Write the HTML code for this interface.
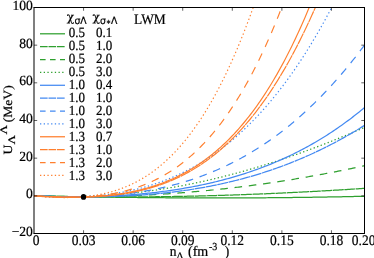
<!DOCTYPE html>
<html><head><meta charset="utf-8"><title>U Lambda</title>
<style>html,body{margin:0;padding:0;background:#fff}</style></head>
<body>
<svg width="374" height="258" viewBox="0 0 374 258" style="display:block">
<rect width="374" height="258" fill="#fff"/>
<g transform="scale(1,1.08)">
<g fill="none" stroke-width="1.15">
<path d="M34.00 181.32 L35.65 181.36 L37.30 181.39 L38.96 181.42 L40.61 181.45 L42.26 181.49 L43.91 181.52 L45.57 181.55 L47.22 181.58 L48.87 181.61 L50.52 181.64 L52.18 181.67 L53.83 181.70 L55.48 181.73 L57.14 181.76 L58.79 181.79 L60.44 181.82 L62.09 181.85 L63.75 181.88 L65.40 181.91 L67.05 181.94 L68.70 181.97 L70.35 181.99 L72.01 182.02 L73.66 182.05 L75.31 182.07 L76.97 182.10 L78.62 182.13 L80.27 182.15 L81.92 182.18 L83.57 182.21 L85.23 182.23 L86.88 182.26 L88.53 182.28 L90.19 182.30 L91.84 182.33 L93.49 182.35 L95.14 182.38 L96.80 182.40 L98.45 182.42 L100.10 182.44 L101.75 182.47 L103.41 182.49 L105.06 182.51 L106.71 182.53 L108.36 182.55 L110.02 182.58 L111.67 182.60 L113.32 182.62 L114.97 182.64 L116.62 182.66 L118.28 182.68 L119.93 182.69 L121.58 182.71 L123.23 182.73 L124.89 182.75 L126.54 182.77 L128.19 182.79 L129.84 182.80 L131.50 182.82 L133.15 182.84 L134.80 182.85 L136.45 182.87 L138.11 182.89 L139.76 182.90 L141.41 182.92 L143.06 182.93 L144.72 182.95 L146.37 182.96 L148.02 182.98 L149.68 182.99 L151.33 183.00 L152.98 183.02 L154.63 183.03 L156.28 183.04 L157.94 183.05 L159.59 183.06 L161.24 183.08 L162.90 183.09 L164.55 183.10 L166.20 183.11 L167.85 183.12 L169.50 183.13 L171.16 183.14 L172.81 183.15 L174.46 183.16 L176.12 183.16 L177.77 183.17 L179.42 183.18 L181.07 183.19 L182.72 183.20 L184.38 183.20 L186.03 183.21 L187.68 183.21 L189.34 183.22 L190.99 183.23 L192.64 183.23 L194.29 183.24 L195.94 183.24 L197.60 183.24 L199.25 183.25 L200.90 183.25 L202.56 183.26 L204.21 183.26 L205.86 183.26 L207.51 183.26 L209.16 183.26 L210.82 183.27 L212.47 183.27 L214.12 183.27 L215.78 183.27 L217.43 183.27 L219.08 183.27 L220.73 183.27 L222.39 183.27 L224.04 183.26 L225.69 183.26 L227.34 183.26 L229.00 183.26 L230.65 183.25 L232.30 183.25 L233.95 183.25 L235.60 183.24 L237.26 183.24 L238.91 183.23 L240.56 183.23 L242.22 183.22 L243.87 183.22 L245.52 183.21 L247.17 183.20 L248.83 183.20 L250.48 183.19 L252.13 183.18 L253.78 183.17 L255.44 183.17 L257.09 183.16 L258.74 183.15 L260.39 183.14 L262.05 183.13 L263.70 183.12 L265.35 183.11 L267.00 183.10 L268.66 183.08 L270.31 183.07 L271.96 183.06 L273.61 183.05 L275.26 183.03 L276.92 183.02 L278.57 183.01 L280.22 182.99 L281.88 182.98 L283.53 182.96 L285.18 182.95 L286.83 182.93 L288.49 182.92 L290.14 182.90 L291.79 182.88 L293.44 182.86 L295.10 182.85 L296.75 182.83 L298.40 182.81 L300.05 182.79 L301.70 182.77 L303.36 182.75 L305.01 182.73 L306.66 182.71 L308.31 182.69 L309.97 182.67 L311.62 182.65 L313.27 182.62 L314.93 182.60 L316.58 182.58 L318.23 182.55 L319.88 182.53 L321.54 182.51 L323.19 182.48 L324.84 182.46 L326.49 182.43 L328.14 182.40 L329.80 182.38 L331.45 182.35 L333.10 182.32 L334.75 182.30 L336.41 182.27 L338.06 182.24 L339.71 182.21 L341.37 182.18 L343.02 182.15 L344.67 182.12 L346.32 182.09 L347.98 182.06 L349.63 182.03 L351.28 181.99 L352.93 181.96 L354.59 181.93 L356.24 181.89 L357.89 181.86 L359.54 181.83 L361.19 181.79 L362.85 181.76 L364.50 181.72" stroke="#2fa02f"/>
<path d="M34.00 181.32 L35.65 181.37 L37.30 181.41 L38.96 181.45 L40.61 181.49 L42.26 181.52 L43.91 181.56 L45.57 181.60 L47.22 181.63 L48.87 181.67 L50.52 181.70 L52.18 181.74 L53.83 181.77 L55.48 181.80 L57.14 181.83 L58.79 181.86 L60.44 181.89 L62.09 181.92 L63.75 181.94 L65.40 181.97 L67.05 182.00 L68.70 182.02 L70.35 182.04 L72.01 182.07 L73.66 182.09 L75.31 182.11 L76.97 182.13 L78.62 182.15 L80.27 182.17 L81.92 182.19 L83.57 182.20 L85.23 182.22 L86.88 182.24 L88.53 182.25 L90.19 182.26 L91.84 182.28 L93.49 182.29 L95.14 182.30 L96.80 182.31 L98.45 182.32 L100.10 182.33 L101.75 182.34 L103.41 182.35 L105.06 182.35 L106.71 182.36 L108.36 182.36 L110.02 182.37 L111.67 182.37 L113.32 182.37 L114.97 182.38 L116.62 182.38 L118.28 182.38 L119.93 182.38 L121.58 182.38 L123.23 182.37 L124.89 182.37 L126.54 182.37 L128.19 182.36 L129.84 182.36 L131.50 182.35 L133.15 182.34 L134.80 182.34 L136.45 182.33 L138.11 182.32 L139.76 182.31 L141.41 182.30 L143.06 182.29 L144.72 182.27 L146.37 182.26 L148.02 182.25 L149.68 182.23 L151.33 182.22 L152.98 182.20 L154.63 182.18 L156.28 182.17 L157.94 182.15 L159.59 182.13 L161.24 182.11 L162.90 182.09 L164.55 182.07 L166.20 182.05 L167.85 182.02 L169.50 182.00 L171.16 181.97 L172.81 181.95 L174.46 181.92 L176.12 181.90 L177.77 181.87 L179.42 181.84 L181.07 181.81 L182.72 181.78 L184.38 181.75 L186.03 181.72 L187.68 181.69 L189.34 181.66 L190.99 181.62 L192.64 181.59 L194.29 181.56 L195.94 181.52 L197.60 181.49 L199.25 181.45 L200.90 181.41 L202.56 181.37 L204.21 181.33 L205.86 181.29 L207.51 181.25 L209.16 181.21 L210.82 181.17 L212.47 181.13 L214.12 181.09 L215.78 181.04 L217.43 181.00 L219.08 180.95 L220.73 180.91 L222.39 180.86 L224.04 180.81 L225.69 180.76 L227.34 180.71 L229.00 180.67 L230.65 180.62 L232.30 180.56 L233.95 180.51 L235.60 180.46 L237.26 180.41 L238.91 180.35 L240.56 180.30 L242.22 180.25 L243.87 180.19 L245.52 180.13 L247.17 180.08 L248.83 180.02 L250.48 179.96 L252.13 179.90 L253.78 179.84 L255.44 179.78 L257.09 179.72 L258.74 179.66 L260.39 179.60 L262.05 179.53 L263.70 179.47 L265.35 179.41 L267.00 179.34 L268.66 179.28 L270.31 179.21 L271.96 179.14 L273.61 179.08 L275.26 179.01 L276.92 178.94 L278.57 178.87 L280.22 178.80 L281.88 178.73 L283.53 178.66 L285.18 178.59 L286.83 178.51 L288.49 178.44 L290.14 178.37 L291.79 178.29 L293.44 178.22 L295.10 178.14 L296.75 178.06 L298.40 177.99 L300.05 177.91 L301.70 177.83 L303.36 177.75 L305.01 177.67 L306.66 177.59 L308.31 177.51 L309.97 177.43 L311.62 177.35 L313.27 177.26 L314.93 177.18 L316.58 177.10 L318.23 177.01 L319.88 176.93 L321.54 176.84 L323.19 176.76 L324.84 176.67 L326.49 176.58 L328.14 176.49 L329.80 176.41 L331.45 176.32 L333.10 176.23 L334.75 176.14 L336.41 176.04 L338.06 175.95 L339.71 175.86 L341.37 175.77 L343.02 175.67 L344.67 175.58 L346.32 175.49 L347.98 175.39 L349.63 175.30 L351.28 175.20 L352.93 175.10 L354.59 175.00 L356.24 174.91 L357.89 174.81 L359.54 174.71 L361.19 174.61 L362.85 174.51 L364.50 174.41" stroke="#2fa02f" stroke-dasharray="10.9 0.6"/>
<path d="M34.00 181.32 L35.65 181.38 L37.30 181.43 L38.96 181.48 L40.61 181.53 L42.26 181.58 L43.91 181.62 L45.57 181.67 L47.22 181.71 L48.87 181.75 L50.52 181.78 L52.18 181.82 L53.83 181.85 L55.48 181.88 L57.14 181.91 L58.79 181.94 L60.44 181.97 L62.09 181.99 L63.75 182.01 L65.40 182.03 L67.05 182.05 L68.70 182.06 L70.35 182.08 L72.01 182.09 L73.66 182.10 L75.31 182.11 L76.97 182.11 L78.62 182.12 L80.27 182.12 L81.92 182.12 L83.57 182.12 L85.23 182.11 L86.88 182.11 L88.53 182.10 L90.19 182.09 L91.84 182.08 L93.49 182.06 L95.14 182.05 L96.80 182.03 L98.45 182.01 L100.10 181.99 L101.75 181.96 L103.41 181.94 L105.06 181.91 L106.71 181.88 L108.36 181.85 L110.02 181.82 L111.67 181.78 L113.32 181.74 L114.97 181.70 L116.62 181.66 L118.28 181.62 L119.93 181.57 L121.58 181.53 L123.23 181.48 L124.89 181.43 L126.54 181.37 L128.19 181.32 L129.84 181.26 L131.50 181.20 L133.15 181.14 L134.80 181.08 L136.45 181.02 L138.11 180.95 L139.76 180.88 L141.41 180.81 L143.06 180.74 L144.72 180.66 L146.37 180.59 L148.02 180.51 L149.68 180.43 L151.33 180.35 L152.98 180.26 L154.63 180.18 L156.28 180.09 L157.94 180.00 L159.59 179.91 L161.24 179.81 L162.90 179.72 L164.55 179.62 L166.20 179.52 L167.85 179.42 L169.50 179.31 L171.16 179.21 L172.81 179.10 L174.46 178.99 L176.12 178.88 L177.77 178.76 L179.42 178.65 L181.07 178.53 L182.72 178.41 L184.38 178.29 L186.03 178.17 L187.68 178.04 L189.34 177.92 L190.99 177.79 L192.64 177.66 L194.29 177.52 L195.94 177.39 L197.60 177.25 L199.25 177.11 L200.90 176.97 L202.56 176.83 L204.21 176.68 L205.86 176.54 L207.51 176.39 L209.16 176.24 L210.82 176.09 L212.47 175.93 L214.12 175.78 L215.78 175.62 L217.43 175.46 L219.08 175.30 L220.73 175.13 L222.39 174.97 L224.04 174.80 L225.69 174.63 L227.34 174.46 L229.00 174.28 L230.65 174.11 L232.30 173.93 L233.95 173.75 L235.60 173.57 L237.26 173.38 L238.91 173.20 L240.56 173.01 L242.22 172.82 L243.87 172.63 L245.52 172.44 L247.17 172.24 L248.83 172.05 L250.48 171.85 L252.13 171.65 L253.78 171.44 L255.44 171.24 L257.09 171.03 L258.74 170.82 L260.39 170.61 L262.05 170.40 L263.70 170.18 L265.35 169.97 L267.00 169.75 L268.66 169.53 L270.31 169.31 L271.96 169.08 L273.61 168.86 L275.26 168.63 L276.92 168.40 L278.57 168.17 L280.22 167.93 L281.88 167.70 L283.53 167.46 L285.18 167.22 L286.83 166.98 L288.49 166.73 L290.14 166.49 L291.79 166.24 L293.44 165.99 L295.10 165.74 L296.75 165.49 L298.40 165.23 L300.05 164.97 L301.70 164.72 L303.36 164.45 L305.01 164.19 L306.66 163.93 L308.31 163.66 L309.97 163.39 L311.62 163.12 L313.27 162.85 L314.93 162.57 L316.58 162.30 L318.23 162.02 L319.88 161.74 L321.54 161.46 L323.19 161.17 L324.84 160.89 L326.49 160.60 L328.14 160.31 L329.80 160.02 L331.45 159.72 L333.10 159.43 L334.75 159.13 L336.41 158.83 L338.06 158.53 L339.71 158.22 L341.37 157.92 L343.02 157.61 L344.67 157.30 L346.32 156.99 L347.98 156.68 L349.63 156.36 L351.28 156.05 L352.93 155.73 L354.59 155.41 L356.24 155.08 L357.89 154.76 L359.54 154.43 L361.19 154.10 L362.85 153.77 L364.50 153.44" stroke="#2fa02f" stroke-dasharray="7.6 6.75" stroke-dashoffset="0.05"/>
<path d="M34.00 181.32 L35.65 181.41 L37.30 181.49 L38.96 181.57 L40.61 181.64 L42.26 181.71 L43.91 181.78 L45.57 181.84 L47.22 181.89 L48.87 181.94 L50.52 181.99 L52.18 182.03 L53.83 182.07 L55.48 182.10 L57.14 182.13 L58.79 182.15 L60.44 182.17 L62.09 182.18 L63.75 182.20 L65.40 182.20 L67.05 182.20 L68.70 182.20 L70.35 182.19 L72.01 182.18 L73.66 182.16 L75.31 182.14 L76.97 182.12 L78.62 182.09 L80.27 182.06 L81.92 182.02 L83.57 181.98 L85.23 181.93 L86.88 181.88 L88.53 181.82 L90.19 181.76 L91.84 181.70 L93.49 181.63 L95.14 181.56 L96.80 181.48 L98.45 181.40 L100.10 181.32 L101.75 181.23 L103.41 181.13 L105.06 181.03 L106.71 180.93 L108.36 180.82 L110.02 180.71 L111.67 180.60 L113.32 180.48 L114.97 180.36 L116.62 180.23 L118.28 180.10 L119.93 179.96 L121.58 179.82 L123.23 179.68 L124.89 179.53 L126.54 179.38 L128.19 179.22 L129.84 179.06 L131.50 178.89 L133.15 178.72 L134.80 178.55 L136.45 178.37 L138.11 178.19 L139.76 178.01 L141.41 177.82 L143.06 177.62 L144.72 177.42 L146.37 177.22 L148.02 177.02 L149.68 176.81 L151.33 176.59 L152.98 176.38 L154.63 176.15 L156.28 175.93 L157.94 175.70 L159.59 175.46 L161.24 175.23 L162.90 174.98 L164.55 174.74 L166.20 174.49 L167.85 174.23 L169.50 173.98 L171.16 173.71 L172.81 173.45 L174.46 173.18 L176.12 172.91 L177.77 172.63 L179.42 172.35 L181.07 172.06 L182.72 171.77 L184.38 171.48 L186.03 171.18 L187.68 170.88 L189.34 170.58 L190.99 170.27 L192.64 169.96 L194.29 169.64 L195.94 169.32 L197.60 169.00 L199.25 168.67 L200.90 168.34 L202.56 168.00 L204.21 167.66 L205.86 167.32 L207.51 166.97 L209.16 166.62 L210.82 166.27 L212.47 165.91 L214.12 165.55 L215.78 165.18 L217.43 164.82 L219.08 164.44 L220.73 164.07 L222.39 163.69 L224.04 163.30 L225.69 162.91 L227.34 162.52 L229.00 162.13 L230.65 161.73 L232.30 161.33 L233.95 160.92 L235.60 160.51 L237.26 160.10 L238.91 159.68 L240.56 159.26 L242.22 158.84 L243.87 158.41 L245.52 157.98 L247.17 157.54 L248.83 157.10 L250.48 156.66 L252.13 156.22 L253.78 155.77 L255.44 155.32 L257.09 154.86 L258.74 154.40 L260.39 153.94 L262.05 153.47 L263.70 153.00 L265.35 152.52 L267.00 152.05 L268.66 151.57 L270.31 151.08 L271.96 150.59 L273.61 150.10 L275.26 149.61 L276.92 149.11 L278.57 148.61 L280.22 148.10 L281.88 147.59 L283.53 147.08 L285.18 146.57 L286.83 146.05 L288.49 145.53 L290.14 145.00 L291.79 144.47 L293.44 143.94 L295.10 143.40 L296.75 142.86 L298.40 142.32 L300.05 141.78 L301.70 141.23 L303.36 140.67 L305.01 140.12 L306.66 139.56 L308.31 139.00 L309.97 138.43 L311.62 137.86 L313.27 137.29 L314.93 136.71 L316.58 136.14 L318.23 135.55 L319.88 134.97 L321.54 134.38 L323.19 133.79 L324.84 133.19 L326.49 132.59 L328.14 131.99 L329.80 131.39 L331.45 130.78 L333.10 130.17 L334.75 129.55 L336.41 128.94 L338.06 128.31 L339.71 127.69 L341.37 127.06 L343.02 126.43 L344.67 125.80 L346.32 125.16 L347.98 124.52 L349.63 123.88 L351.28 123.24 L352.93 122.59 L354.59 121.93 L356.24 121.28 L357.89 120.62 L359.54 119.96 L361.19 119.30 L362.85 118.63 L364.50 117.96" stroke="#2fa02f" stroke-dasharray="1.3 2.4"/>
<path d="M34.00 181.32 L35.65 181.40 L37.30 181.47 L38.96 181.54 L40.61 181.61 L42.26 181.67 L43.91 181.73 L45.57 181.79 L47.22 181.84 L48.87 181.89 L50.52 181.94 L52.18 181.99 L53.83 182.03 L55.48 182.07 L57.14 182.10 L58.79 182.13 L60.44 182.16 L62.09 182.19 L63.75 182.21 L65.40 182.23 L67.05 182.25 L68.70 182.26 L70.35 182.27 L72.01 182.28 L73.66 182.28 L75.31 182.28 L76.97 182.28 L78.62 182.27 L80.27 182.26 L81.92 182.25 L83.57 182.24 L85.23 182.22 L86.88 182.20 L88.53 182.17 L90.19 182.14 L91.84 182.11 L93.49 182.08 L95.14 182.04 L96.80 182.00 L98.45 181.95 L100.10 181.90 L101.75 181.85 L103.41 181.79 L105.06 181.74 L106.71 181.67 L108.36 181.61 L110.02 181.54 L111.67 181.46 L113.32 181.39 L114.97 181.31 L116.62 181.22 L118.28 181.14 L119.93 181.05 L121.58 180.95 L123.23 180.85 L124.89 180.75 L126.54 180.64 L128.19 180.53 L129.84 180.42 L131.50 180.30 L133.15 180.18 L134.80 180.06 L136.45 179.93 L138.11 179.80 L139.76 179.66 L141.41 179.52 L143.06 179.37 L144.72 179.22 L146.37 179.07 L148.02 178.91 L149.68 178.75 L151.33 178.58 L152.98 178.41 L154.63 178.24 L156.28 178.06 L157.94 177.87 L159.59 177.68 L161.24 177.49 L162.90 177.29 L164.55 177.09 L166.20 176.89 L167.85 176.67 L169.50 176.46 L171.16 176.24 L172.81 176.01 L174.46 175.78 L176.12 175.55 L177.77 175.31 L179.42 175.06 L181.07 174.81 L182.72 174.55 L184.38 174.29 L186.03 174.03 L187.68 173.76 L189.34 173.48 L190.99 173.20 L192.64 172.91 L194.29 172.62 L195.94 172.32 L197.60 172.01 L199.25 171.70 L200.90 171.39 L202.56 171.07 L204.21 170.74 L205.86 170.41 L207.51 170.07 L209.16 169.72 L210.82 169.37 L212.47 169.01 L214.12 168.65 L215.78 168.28 L217.43 167.91 L219.08 167.52 L220.73 167.13 L222.39 166.74 L224.04 166.34 L225.69 165.93 L227.34 165.51 L229.00 165.09 L230.65 164.66 L232.30 164.23 L233.95 163.78 L235.60 163.33 L237.26 162.88 L238.91 162.41 L240.56 161.94 L242.22 161.46 L243.87 160.98 L245.52 160.48 L247.17 159.98 L248.83 159.47 L250.48 158.96 L252.13 158.43 L253.78 157.90 L255.44 157.36 L257.09 156.81 L258.74 156.25 L260.39 155.69 L262.05 155.12 L263.70 154.54 L265.35 153.95 L267.00 153.35 L268.66 152.74 L270.31 152.13 L271.96 151.50 L273.61 150.87 L275.26 150.23 L276.92 149.57 L278.57 148.91 L280.22 148.24 L281.88 147.57 L283.53 146.88 L285.18 146.18 L286.83 145.47 L288.49 144.76 L290.14 144.03 L291.79 143.29 L293.44 142.55 L295.10 141.79 L296.75 141.02 L298.40 140.25 L300.05 139.46 L301.70 138.66 L303.36 137.85 L305.01 137.04 L306.66 136.21 L308.31 135.37 L309.97 134.51 L311.62 133.65 L313.27 132.78 L314.93 131.90 L316.58 131.00 L318.23 130.09 L319.88 129.17 L321.54 128.24 L323.19 127.30 L324.84 126.35 L326.49 125.38 L328.14 124.41 L329.80 123.42 L331.45 122.41 L333.10 121.40 L334.75 120.37 L336.41 119.33 L338.06 118.28 L339.71 117.22 L341.37 116.14 L343.02 115.05 L344.67 113.94 L346.32 112.83 L347.98 111.70 L349.63 110.55 L351.28 109.40 L352.93 108.22 L354.59 107.04 L356.24 105.84 L357.89 104.63 L359.54 103.40 L361.19 102.16 L362.85 100.90 L364.50 99.63" stroke="#4389f2"/>
<path d="M34.00 181.32 L35.65 181.38 L37.30 181.44 L38.96 181.49 L40.61 181.54 L42.26 181.59 L43.91 181.64 L45.57 181.69 L47.22 181.73 L48.87 181.78 L50.52 181.82 L52.18 181.86 L53.83 181.90 L55.48 181.94 L57.14 181.98 L58.79 182.01 L60.44 182.04 L62.09 182.07 L63.75 182.10 L65.40 182.13 L67.05 182.15 L68.70 182.18 L70.35 182.20 L72.01 182.21 L73.66 182.23 L75.31 182.24 L76.97 182.26 L78.62 182.27 L80.27 182.27 L81.92 182.28 L83.57 182.28 L85.23 182.28 L86.88 182.28 L88.53 182.27 L90.19 182.26 L91.84 182.25 L93.49 182.24 L95.14 182.23 L96.80 182.21 L98.45 182.19 L100.10 182.16 L101.75 182.14 L103.41 182.11 L105.06 182.08 L106.71 182.04 L108.36 182.00 L110.02 181.96 L111.67 181.92 L113.32 181.87 L114.97 181.82 L116.62 181.77 L118.28 181.71 L119.93 181.65 L121.58 181.59 L123.23 181.52 L124.89 181.45 L126.54 181.38 L128.19 181.30 L129.84 181.22 L131.50 181.14 L133.15 181.05 L134.80 180.96 L136.45 180.86 L138.11 180.77 L139.76 180.66 L141.41 180.56 L143.06 180.45 L144.72 180.34 L146.37 180.22 L148.02 180.10 L149.68 179.97 L151.33 179.85 L152.98 179.71 L154.63 179.58 L156.28 179.44 L157.94 179.29 L159.59 179.14 L161.24 178.99 L162.90 178.83 L164.55 178.67 L166.20 178.50 L167.85 178.33 L169.50 178.16 L171.16 177.98 L172.81 177.80 L174.46 177.61 L176.12 177.42 L177.77 177.22 L179.42 177.02 L181.07 176.81 L182.72 176.60 L184.38 176.38 L186.03 176.16 L187.68 175.94 L189.34 175.71 L190.99 175.47 L192.64 175.23 L194.29 174.99 L195.94 174.74 L197.60 174.48 L199.25 174.22 L200.90 173.96 L202.56 173.69 L204.21 173.41 L205.86 173.13 L207.51 172.85 L209.16 172.55 L210.82 172.26 L212.47 171.96 L214.12 171.65 L215.78 171.34 L217.43 171.02 L219.08 170.69 L220.73 170.36 L222.39 170.03 L224.04 169.69 L225.69 169.34 L227.34 168.99 L229.00 168.63 L230.65 168.27 L232.30 167.90 L233.95 167.52 L235.60 167.14 L237.26 166.76 L238.91 166.36 L240.56 165.96 L242.22 165.56 L243.87 165.15 L245.52 164.73 L247.17 164.31 L248.83 163.88 L250.48 163.44 L252.13 163.00 L253.78 162.55 L255.44 162.09 L257.09 161.63 L258.74 161.16 L260.39 160.69 L262.05 160.21 L263.70 159.72 L265.35 159.23 L267.00 158.73 L268.66 158.22 L270.31 157.70 L271.96 157.18 L273.61 156.66 L275.26 156.12 L276.92 155.58 L278.57 155.03 L280.22 154.48 L281.88 153.91 L283.53 153.35 L285.18 152.77 L286.83 152.19 L288.49 151.60 L290.14 151.00 L291.79 150.39 L293.44 149.78 L295.10 149.16 L296.75 148.53 L298.40 147.90 L300.05 147.26 L301.70 146.61 L303.36 145.95 L305.01 145.29 L306.66 144.62 L308.31 143.94 L309.97 143.25 L311.62 142.56 L313.27 141.86 L314.93 141.15 L316.58 140.43 L318.23 139.70 L319.88 138.97 L321.54 138.23 L323.19 137.48 L324.84 136.72 L326.49 135.96 L328.14 135.18 L329.80 134.40 L331.45 133.61 L333.10 132.82 L334.75 132.01 L336.41 131.20 L338.06 130.37 L339.71 129.54 L341.37 128.70 L343.02 127.86 L344.67 127.00 L346.32 126.14 L347.98 125.26 L349.63 124.38 L351.28 123.49 L352.93 122.59 L354.59 121.69 L356.24 120.77 L357.89 119.85 L359.54 118.91 L361.19 117.97 L362.85 117.02 L364.50 116.06" stroke="#4389f2" stroke-dasharray="10.9 0.6"/>
<path d="M34.00 181.32 L35.65 181.41 L37.30 181.48 L38.96 181.56 L40.61 181.63 L42.26 181.70 L43.91 181.77 L45.57 181.83 L47.22 181.89 L48.87 181.94 L50.52 181.99 L52.18 182.04 L53.83 182.09 L55.48 182.13 L57.14 182.16 L58.79 182.20 L60.44 182.22 L62.09 182.25 L63.75 182.27 L65.40 182.29 L67.05 182.30 L68.70 182.31 L70.35 182.31 L72.01 182.31 L73.66 182.31 L75.31 182.30 L76.97 182.28 L78.62 182.27 L80.27 182.24 L81.92 182.21 L83.57 182.18 L85.23 182.14 L86.88 182.10 L88.53 182.05 L90.19 182.00 L91.84 181.95 L93.49 181.88 L95.14 181.81 L96.80 181.74 L98.45 181.66 L100.10 181.58 L101.75 181.49 L103.41 181.40 L105.06 181.29 L106.71 181.19 L108.36 181.08 L110.02 180.96 L111.67 180.83 L113.32 180.71 L114.97 180.57 L116.62 180.43 L118.28 180.28 L119.93 180.12 L121.58 179.96 L123.23 179.80 L124.89 179.62 L126.54 179.44 L128.19 179.26 L129.84 179.06 L131.50 178.86 L133.15 178.66 L134.80 178.44 L136.45 178.22 L138.11 177.99 L139.76 177.76 L141.41 177.52 L143.06 177.27 L144.72 177.01 L146.37 176.74 L148.02 176.47 L149.68 176.19 L151.33 175.91 L152.98 175.61 L154.63 175.31 L156.28 175.00 L157.94 174.68 L159.59 174.35 L161.24 174.02 L162.90 173.67 L164.55 173.32 L166.20 172.96 L167.85 172.59 L169.50 172.22 L171.16 171.83 L172.81 171.44 L174.46 171.03 L176.12 170.62 L177.77 170.20 L179.42 169.77 L181.07 169.33 L182.72 168.88 L184.38 168.43 L186.03 167.96 L187.68 167.48 L189.34 167.00 L190.99 166.50 L192.64 166.00 L194.29 165.48 L195.94 164.96 L197.60 164.42 L199.25 163.88 L200.90 163.32 L202.56 162.75 L204.21 162.18 L205.86 161.59 L207.51 161.00 L209.16 160.39 L210.82 159.77 L212.47 159.14 L214.12 158.50 L215.78 157.85 L217.43 157.19 L219.08 156.51 L220.73 155.83 L222.39 155.13 L224.04 154.43 L225.69 153.71 L227.34 152.98 L229.00 152.23 L230.65 151.48 L232.30 150.72 L233.95 149.94 L235.60 149.15 L237.26 148.34 L238.91 147.53 L240.56 146.70 L242.22 145.86 L243.87 145.01 L245.52 144.15 L247.17 143.27 L248.83 142.38 L250.48 141.48 L252.13 140.56 L253.78 139.63 L255.44 138.69 L257.09 137.73 L258.74 136.76 L260.39 135.78 L262.05 134.78 L263.70 133.77 L265.35 132.74 L267.00 131.70 L268.66 130.65 L270.31 129.58 L271.96 128.50 L273.61 127.41 L275.26 126.30 L276.92 125.17 L278.57 124.03 L280.22 122.88 L281.88 121.71 L283.53 120.52 L285.18 119.32 L286.83 118.11 L288.49 116.88 L290.14 115.63 L291.79 114.37 L293.44 113.09 L295.10 111.80 L296.75 110.49 L298.40 109.16 L300.05 107.82 L301.70 106.46 L303.36 105.09 L305.01 103.70 L306.66 102.29 L308.31 100.87 L309.97 99.43 L311.62 97.97 L313.27 96.50 L314.93 95.01 L316.58 93.50 L318.23 91.97 L319.88 90.43 L321.54 88.87 L323.19 87.29 L324.84 85.69 L326.49 84.08 L328.14 82.44 L329.80 80.79 L331.45 79.12 L333.10 77.44 L334.75 75.73 L336.41 74.00 L338.06 72.26 L339.71 70.50 L341.37 68.72 L343.02 66.92 L344.67 65.10 L346.32 63.26 L347.98 61.40 L349.63 59.52 L351.28 57.62 L352.93 55.70 L354.59 53.77 L356.24 51.81 L357.89 49.83 L359.54 47.83 L361.19 45.81 L362.85 43.77 L364.50 41.71" stroke="#4389f2" stroke-dasharray="7.6 6.75" stroke-dashoffset="4.75"/>
<path d="M34.00 181.32 L35.65 181.43 L37.30 181.53 L38.96 181.63 L40.61 181.72 L42.26 181.80 L43.91 181.88 L45.57 181.96 L47.22 182.03 L48.87 182.09 L50.52 182.15 L52.18 182.21 L53.83 182.26 L55.48 182.30 L57.14 182.33 L58.79 182.36 L60.44 182.39 L62.09 182.41 L63.75 182.42 L65.40 182.43 L67.05 182.42 L68.70 182.42 L70.35 182.40 L72.01 182.38 L73.66 182.36 L75.31 182.32 L76.97 182.28 L78.62 182.23 L80.27 182.18 L81.92 182.11 L83.57 182.04 L85.23 181.97 L86.88 181.88 L88.53 181.79 L90.19 181.69 L91.84 181.58 L93.49 181.46 L95.14 181.34 L96.80 181.21 L98.45 181.06 L100.10 180.91 L101.75 180.76 L103.41 180.59 L105.06 180.41 L106.71 180.23 L108.36 180.03 L110.02 179.83 L111.67 179.62 L113.32 179.40 L114.97 179.17 L116.62 178.92 L118.28 178.67 L119.93 178.41 L121.58 178.14 L123.23 177.86 L124.89 177.57 L126.54 177.27 L128.19 176.96 L129.84 176.63 L131.50 176.30 L133.15 175.95 L134.80 175.60 L136.45 175.23 L138.11 174.85 L139.76 174.46 L141.41 174.06 L143.06 173.65 L144.72 173.22 L146.37 172.79 L148.02 172.34 L149.68 171.87 L151.33 171.40 L152.98 170.91 L154.63 170.41 L156.28 169.90 L157.94 169.38 L159.59 168.84 L161.24 168.28 L162.90 167.72 L164.55 167.14 L166.20 166.55 L167.85 165.94 L169.50 165.32 L171.16 164.68 L172.81 164.03 L174.46 163.37 L176.12 162.69 L177.77 162.00 L179.42 161.29 L181.07 160.56 L182.72 159.82 L184.38 159.07 L186.03 158.30 L187.68 157.51 L189.34 156.71 L190.99 155.89 L192.64 155.05 L194.29 154.20 L195.94 153.33 L197.60 152.45 L199.25 151.55 L200.90 150.63 L202.56 149.69 L204.21 148.74 L205.86 147.76 L207.51 146.77 L209.16 145.77 L210.82 144.74 L212.47 143.70 L214.12 142.63 L215.78 141.55 L217.43 140.45 L219.08 139.33 L220.73 138.19 L222.39 137.03 L224.04 135.85 L225.69 134.65 L227.34 133.43 L229.00 132.19 L230.65 130.94 L232.30 129.66 L233.95 128.35 L235.60 127.03 L237.26 125.69 L238.91 124.32 L240.56 122.94 L242.22 121.53 L243.87 120.10 L245.52 118.65 L247.17 117.17 L248.83 115.68 L250.48 114.16 L252.13 112.61 L253.78 111.05 L255.44 109.46 L257.09 107.85 L258.74 106.21 L260.39 104.55 L262.05 102.86 L263.70 101.15 L265.35 99.42 L267.00 97.66 L268.66 95.88 L270.31 94.07 L271.96 92.23 L273.61 90.37 L275.26 88.48 L276.92 86.57 L278.57 84.63 L280.22 82.67 L281.88 80.67 L283.53 78.66 L285.18 76.61 L286.83 74.53 L288.49 72.43 L290.14 70.30 L291.79 68.15 L293.44 65.96 L295.10 63.75 L296.75 61.50 L298.40 59.23 L300.05 56.93 L301.70 54.60 L303.36 52.24 L305.01 49.85 L306.66 47.43 L308.31 44.97 L309.97 42.49 L311.62 39.98 L313.27 37.44 L314.93 34.86 L316.58 32.25 L318.23 29.62 L319.88 26.95 L321.54 24.24 L323.19 21.51 L324.84 18.74 L326.49 15.94 L328.14 13.10 L329.80 10.23 L331.45 7.33 L331.67 6.94" stroke="#4389f2" stroke-dasharray="1.3 2.4"/>
<path d="M34.00 181.32 L35.65 181.43 L37.30 181.54 L38.96 181.64 L40.61 181.74 L42.26 181.83 L43.91 181.92 L45.57 182.00 L47.22 182.08 L48.87 182.15 L50.52 182.22 L52.18 182.28 L53.83 182.34 L55.48 182.39 L57.14 182.44 L58.79 182.48 L60.44 182.52 L62.09 182.55 L63.75 182.58 L65.40 182.60 L67.05 182.61 L68.70 182.62 L70.35 182.63 L72.01 182.63 L73.66 182.62 L75.31 182.61 L76.97 182.59 L78.62 182.56 L80.27 182.53 L81.92 182.49 L83.57 182.45 L85.23 182.39 L86.88 182.33 L88.53 182.27 L90.19 182.20 L91.84 182.12 L93.49 182.03 L95.14 181.94 L96.80 181.83 L98.45 181.72 L100.10 181.61 L101.75 181.48 L103.41 181.34 L105.06 181.20 L106.71 181.05 L108.36 180.89 L110.02 180.72 L111.67 180.54 L113.32 180.36 L114.97 180.16 L116.62 179.95 L118.28 179.73 L119.93 179.51 L121.58 179.27 L123.23 179.02 L124.89 178.76 L126.54 178.49 L128.19 178.21 L129.84 177.92 L131.50 177.62 L133.15 177.30 L134.80 176.98 L136.45 176.64 L138.11 176.28 L139.76 175.92 L141.41 175.54 L143.06 175.15 L144.72 174.74 L146.37 174.32 L148.02 173.89 L149.68 173.44 L151.33 172.98 L152.98 172.50 L154.63 172.01 L156.28 171.51 L157.94 170.98 L159.59 170.44 L161.24 169.89 L162.90 169.31 L164.55 168.73 L166.20 168.12 L167.85 167.49 L169.50 166.85 L171.16 166.19 L172.81 165.51 L174.46 164.82 L176.12 164.10 L177.77 163.36 L179.42 162.61 L181.07 161.83 L182.72 161.04 L184.38 160.22 L186.03 159.38 L187.68 158.52 L189.34 157.64 L190.99 156.73 L192.64 155.81 L194.29 154.86 L195.94 153.88 L197.60 152.89 L199.25 151.86 L200.90 150.82 L202.56 149.75 L204.21 148.65 L205.86 147.53 L207.51 146.38 L209.16 145.21 L210.82 144.01 L212.47 142.78 L214.12 141.52 L215.78 140.24 L217.43 138.93 L219.08 137.59 L220.73 136.21 L222.39 134.81 L224.04 133.38 L225.69 131.92 L227.34 130.43 L229.00 128.90 L230.65 127.35 L232.30 125.76 L233.95 124.14 L235.60 122.48 L237.26 120.79 L238.91 119.07 L240.56 117.31 L242.22 115.51 L243.87 113.69 L245.52 111.82 L247.17 109.92 L248.83 107.98 L250.48 106.00 L252.13 103.98 L253.78 101.93 L255.44 99.84 L257.09 97.70 L258.74 95.53 L260.39 93.31 L262.05 91.06 L263.70 88.76 L265.35 86.42 L267.00 84.04 L268.66 81.61 L270.31 79.14 L271.96 76.63 L273.61 74.07 L275.26 71.46 L276.92 68.81 L278.57 66.11 L280.22 63.36 L281.88 60.57 L283.53 57.73 L285.18 54.84 L286.83 51.90 L288.49 48.91 L290.14 45.86 L291.79 42.77 L293.44 39.63 L295.10 36.43 L296.75 33.18 L298.40 29.88 L300.05 26.52 L301.70 23.10 L303.36 19.63 L305.01 16.11 L306.66 12.53 L308.31 8.89 L309.18 6.94" stroke="#ff7f2e"/>
<path d="M34.00 181.32 L35.65 181.41 L37.30 181.50 L38.96 181.59 L40.61 181.67 L42.26 181.75 L43.91 181.83 L45.57 181.90 L47.22 181.97 L48.87 182.04 L50.52 182.11 L52.18 182.17 L53.83 182.22 L55.48 182.28 L57.14 182.33 L58.79 182.38 L60.44 182.42 L62.09 182.46 L63.75 182.49 L65.40 182.52 L67.05 182.55 L68.70 182.57 L70.35 182.58 L72.01 182.59 L73.66 182.60 L75.31 182.60 L76.97 182.59 L78.62 182.58 L80.27 182.56 L81.92 182.54 L83.57 182.51 L85.23 182.48 L86.88 182.44 L88.53 182.39 L90.19 182.33 L91.84 182.27 L93.49 182.20 L95.14 182.13 L96.80 182.04 L98.45 181.95 L100.10 181.85 L101.75 181.74 L103.41 181.63 L105.06 181.50 L106.71 181.37 L108.36 181.23 L110.02 181.08 L111.67 180.92 L113.32 180.75 L114.97 180.57 L116.62 180.39 L118.28 180.19 L119.93 179.98 L121.58 179.76 L123.23 179.53 L124.89 179.29 L126.54 179.04 L128.19 178.78 L129.84 178.50 L131.50 178.22 L133.15 177.92 L134.80 177.61 L136.45 177.29 L138.11 176.95 L139.76 176.60 L141.41 176.24 L143.06 175.87 L144.72 175.48 L146.37 175.08 L148.02 174.67 L149.68 174.24 L151.33 173.79 L152.98 173.33 L154.63 172.86 L156.28 172.37 L157.94 171.86 L159.59 171.34 L161.24 170.81 L162.90 170.25 L164.55 169.68 L166.20 169.10 L167.85 168.49 L169.50 167.87 L171.16 167.23 L172.81 166.58 L174.46 165.90 L176.12 165.21 L177.77 164.50 L179.42 163.77 L181.07 163.02 L182.72 162.24 L184.38 161.45 L186.03 160.64 L187.68 159.81 L189.34 158.96 L190.99 158.09 L192.64 157.20 L194.29 156.28 L195.94 155.34 L197.60 154.38 L199.25 153.40 L200.90 152.39 L202.56 151.36 L204.21 150.31 L205.86 149.24 L207.51 148.14 L209.16 147.01 L210.82 145.86 L212.47 144.69 L214.12 143.48 L215.78 142.26 L217.43 141.01 L219.08 139.73 L220.73 138.42 L222.39 137.09 L224.04 135.73 L225.69 134.34 L227.34 132.92 L229.00 131.48 L230.65 130.01 L232.30 128.50 L233.95 126.97 L235.60 125.41 L237.26 123.82 L238.91 122.19 L240.56 120.54 L242.22 118.85 L243.87 117.14 L245.52 115.39 L247.17 113.60 L248.83 111.79 L250.48 109.94 L252.13 108.06 L253.78 106.15 L255.44 104.20 L257.09 102.21 L258.74 100.19 L260.39 98.14 L262.05 96.05 L263.70 93.92 L265.35 91.76 L267.00 89.56 L268.66 87.32 L270.31 85.04 L271.96 82.73 L273.61 80.38 L275.26 77.98 L276.92 75.55 L278.57 73.08 L280.22 70.57 L281.88 68.02 L283.53 65.43 L285.18 62.79 L286.83 60.11 L288.49 57.40 L290.14 54.63 L291.79 51.83 L293.44 48.98 L295.10 46.09 L296.75 43.15 L298.40 40.17 L300.05 37.14 L301.70 34.07 L303.36 30.95 L305.01 27.79 L306.66 24.57 L308.31 21.31 L309.97 18.01 L311.62 14.65 L313.27 11.24 L314.93 7.79 L315.32 6.94" stroke="#ff7f2e" stroke-dasharray="10.9 0.6"/>
<path d="M34.00 181.32 L35.65 181.44 L37.30 181.55 L38.96 181.66 L40.61 181.77 L42.26 181.86 L43.91 181.96 L45.57 182.05 L47.22 182.13 L48.87 182.21 L50.52 182.28 L52.18 182.35 L53.83 182.41 L55.48 182.47 L57.14 182.52 L58.79 182.57 L60.44 182.60 L62.09 182.63 L63.75 182.66 L65.40 182.68 L67.05 182.69 L68.70 182.69 L70.35 182.69 L72.01 182.68 L73.66 182.66 L75.31 182.63 L76.97 182.59 L78.62 182.55 L80.27 182.50 L81.92 182.43 L83.57 182.36 L85.23 182.28 L86.88 182.19 L88.53 182.09 L90.19 181.98 L91.84 181.86 L93.49 181.73 L95.14 181.59 L96.80 181.44 L98.45 181.28 L100.10 181.10 L101.75 180.91 L103.41 180.72 L105.06 180.50 L106.71 180.28 L108.36 180.04 L110.02 179.79 L111.67 179.53 L113.32 179.25 L114.97 178.96 L116.62 178.65 L118.28 178.33 L119.93 178.00 L121.58 177.64 L123.23 177.28 L124.89 176.89 L126.54 176.49 L128.19 176.08 L129.84 175.65 L131.50 175.20 L133.15 174.73 L134.80 174.24 L136.45 173.74 L138.11 173.22 L139.76 172.67 L141.41 172.11 L143.06 171.53 L144.72 170.93 L146.37 170.31 L148.02 169.67 L149.68 169.00 L151.33 168.32 L152.98 167.61 L154.63 166.88 L156.28 166.13 L157.94 165.35 L159.59 164.55 L161.24 163.73 L162.90 162.88 L164.55 162.01 L166.20 161.11 L167.85 160.19 L169.50 159.24 L171.16 158.26 L172.81 157.26 L174.46 156.23 L176.12 155.17 L177.77 154.09 L179.42 152.97 L181.07 151.83 L182.72 150.65 L184.38 149.45 L186.03 148.21 L187.68 146.95 L189.34 145.65 L190.99 144.32 L192.64 142.96 L194.29 141.57 L195.94 140.14 L197.60 138.68 L199.25 137.18 L200.90 135.65 L202.56 134.09 L204.21 132.48 L205.86 130.84 L207.51 129.17 L209.16 127.46 L210.82 125.71 L212.47 123.92 L214.12 122.09 L215.78 120.22 L217.43 118.31 L219.08 116.36 L220.73 114.38 L222.39 112.34 L224.04 110.27 L225.69 108.15 L227.34 105.99 L229.00 103.79 L230.65 101.54 L232.30 99.25 L233.95 96.91 L235.60 94.53 L237.26 92.09 L238.91 89.61 L240.56 87.09 L242.22 84.51 L243.87 81.89 L245.52 79.21 L247.17 76.49 L248.83 73.71 L250.48 70.88 L252.13 68.00 L253.78 65.07 L255.44 62.08 L257.09 59.04 L258.74 55.95 L260.39 52.80 L262.05 49.59 L263.70 46.33 L265.35 43.01 L267.00 39.63 L268.66 36.19 L270.31 32.69 L271.96 29.14 L273.61 25.52 L275.26 21.84 L276.92 18.10 L278.57 14.30 L280.22 10.43 L281.69 6.94" stroke="#ff7f2e" stroke-dasharray="7.6 6.75" stroke-dashoffset="-4.85"/>
<path d="M34.00 181.32 L35.65 181.47 L37.30 181.60 L38.96 181.74 L40.61 181.86 L42.26 181.98 L43.91 182.10 L45.57 182.20 L47.22 182.30 L48.87 182.40 L50.52 182.48 L52.18 182.56 L53.83 182.63 L55.48 182.70 L57.14 182.75 L58.79 182.80 L60.44 182.83 L62.09 182.86 L63.75 182.88 L65.40 182.88 L67.05 182.88 L68.70 182.86 L70.35 182.84 L72.01 182.80 L73.66 182.75 L75.31 182.69 L76.97 182.62 L78.62 182.53 L80.27 182.43 L81.92 182.32 L83.57 182.19 L85.23 182.05 L86.88 181.89 L88.53 181.72 L90.19 181.54 L91.84 181.34 L93.49 181.12 L95.14 180.88 L96.80 180.63 L98.45 180.36 L100.10 180.07 L101.75 179.77 L103.41 179.44 L105.06 179.10 L106.71 178.74 L108.36 178.35 L110.02 177.95 L111.67 177.53 L113.32 177.08 L114.97 176.62 L116.62 176.13 L118.28 175.62 L119.93 175.08 L121.58 174.52 L123.23 173.94 L124.89 173.34 L126.54 172.70 L128.19 172.05 L129.84 171.37 L131.50 170.66 L133.15 169.92 L134.80 169.16 L136.45 168.37 L138.11 167.55 L139.76 166.70 L141.41 165.82 L143.06 164.91 L144.72 163.98 L146.37 163.01 L148.02 162.01 L149.68 160.98 L151.33 159.91 L152.98 158.81 L154.63 157.68 L156.28 156.52 L157.94 155.32 L159.59 154.08 L161.24 152.81 L162.90 151.50 L164.55 150.16 L166.20 148.78 L167.85 147.36 L169.50 145.90 L171.16 144.40 L172.81 142.86 L174.46 141.28 L176.12 139.66 L177.77 138.00 L179.42 136.30 L181.07 134.55 L182.72 132.76 L184.38 130.93 L186.03 129.05 L187.68 127.12 L189.34 125.16 L190.99 123.14 L192.64 121.07 L194.29 118.96 L195.94 116.80 L197.60 114.59 L199.25 112.33 L200.90 110.02 L202.56 107.66 L204.21 105.25 L205.86 102.79 L207.51 100.27 L209.16 97.69 L210.82 95.07 L212.47 92.39 L214.12 89.65 L215.78 86.85 L217.43 84.00 L219.08 81.09 L220.73 78.12 L222.39 75.09 L224.04 72.01 L225.69 68.86 L227.34 65.65 L229.00 62.37 L230.65 59.04 L232.30 55.64 L233.95 52.17 L235.60 48.64 L237.26 45.05 L238.91 41.38 L240.56 37.65 L242.22 33.86 L243.87 29.99 L245.52 26.05 L247.17 22.04 L248.83 17.96 L250.48 13.81 L252.13 9.59 L253.15 6.94" stroke="#ff7f2e" stroke-dasharray="1.3 2.4"/>
</g>
<g stroke="#000" stroke-width="1" fill="none">
<path d="M34 6.94V216.20"/>
<path d="M33.5 6.94H365"/>
<path d="M33.5 216.20H365"/>
<path d="M364.5 6.94V216.20"/>
<path d="M83.57 216.20v-3M83.57 6.94v3M133.15 216.20v-3M133.15 6.94v3M182.72 216.20v-3M182.72 6.94v3M232.30 216.20v-3M232.30 6.94v3M281.88 216.20v-3M281.88 6.94v3M331.45 216.20v-3M331.45 6.94v3M34 41.82h3.2M364.5 41.82h-3.2M34 76.69h3.2M364.5 76.69h-3.2M34 111.57h3.2M364.5 111.57h-3.2M34 146.45h3.2M364.5 146.45h-3.2M34 181.32h3.2M364.5 181.32h-3.2" stroke-width="0.6"/>
</g>
<circle cx="83.5" cy="182.31" r="2.65" fill="#000"/>
</g>
<g font-family="'Liberation Serif', serif" font-size="13" fill="#000" text-rendering="geometricPrecision" stroke="#000" stroke-width="0.2">
<text transform="translate(32.90,9.70) scale(1,1.03)" font-size="13.6" text-anchor="end">100</text>
<text transform="translate(32.90,47.66) scale(1,1.03)" font-size="13.6" text-anchor="end">80</text>
<text transform="translate(32.90,85.33) scale(1,1.03)" font-size="13.6" text-anchor="end">60</text>
<text transform="translate(32.90,123.00) scale(1,1.03)" font-size="13.6" text-anchor="end">40</text>
<text transform="translate(32.90,160.66) scale(1,1.03)" font-size="13.6" text-anchor="end">20</text>
<text transform="translate(32.90,198.33) scale(1,1.03)" font-size="13.6" text-anchor="end">0</text>
<text transform="translate(32.90,236.20) scale(1,1.03)" font-size="13.6" text-anchor="end">−20</text>
<text transform="translate(36.20,244.80) scale(1,1.08)" font-size="13.5" text-anchor="middle">0</text>
<text transform="translate(83.57,244.80) scale(1,1.08)" font-size="13.5" text-anchor="middle">0.03</text>
<text transform="translate(133.15,244.80) scale(1,1.08)" font-size="13.5" text-anchor="middle">0.06</text>
<text transform="translate(182.72,244.80) scale(1,1.08)" font-size="13.5" text-anchor="middle">0.09</text>
<text transform="translate(232.30,244.80) scale(1,1.08)" font-size="13.5" text-anchor="middle">0.12</text>
<text transform="translate(281.88,244.80) scale(1,1.08)" font-size="13.5" text-anchor="middle">0.15</text>
<text transform="translate(331.45,244.80) scale(1,1.08)" font-size="13.5" text-anchor="middle">0.18</text>
<text transform="translate(375.40,244.80) scale(1,1.08)" font-size="13.5" text-anchor="end">0.20</text>
<path d="M40 33.80H65" stroke="#2fa02f" stroke-width="1.25" fill="none"/>
<text transform="translate(68.80,36.70) scale(1,1.08)">0.5</text>
<text transform="translate(95.90,36.70) scale(1,1.08)">0.1</text>
<path d="M40 46.67H65" stroke="#2fa02f" stroke-width="1.25" fill="none" stroke-dasharray="7.65 0.85"/>
<text transform="translate(68.80,49.70) scale(1,1.08)">0.5</text>
<text transform="translate(95.90,49.70) scale(1,1.08)">1.0</text>
<path d="M40 59.54H65" stroke="#2fa02f" stroke-width="1.25" fill="none" stroke-dasharray="5.6 4.4"/>
<text transform="translate(68.80,62.70) scale(1,1.08)">0.5</text>
<text transform="translate(95.90,62.70) scale(1,1.08)">2.0</text>
<path d="M40 72.41H65" stroke="#2fa02f" stroke-width="1.25" fill="none" stroke-dasharray="1.3 2.4"/>
<text transform="translate(68.80,75.70) scale(1,1.08)">0.5</text>
<text transform="translate(95.90,75.70) scale(1,1.08)">3.0</text>
<path d="M40 85.28H65" stroke="#4389f2" stroke-width="1.25" fill="none"/>
<text transform="translate(68.80,88.70) scale(1,1.08)">1.0</text>
<text transform="translate(95.90,88.70) scale(1,1.08)">0.4</text>
<path d="M40 98.15H65" stroke="#4389f2" stroke-width="1.25" fill="none" stroke-dasharray="7.65 0.85"/>
<text transform="translate(68.80,101.70) scale(1,1.08)">1.0</text>
<text transform="translate(95.90,101.70) scale(1,1.08)">1.0</text>
<path d="M40 111.02H65" stroke="#4389f2" stroke-width="1.25" fill="none" stroke-dasharray="5.6 4.4"/>
<text transform="translate(68.80,114.70) scale(1,1.08)">1.0</text>
<text transform="translate(95.90,114.70) scale(1,1.08)">2.0</text>
<path d="M40 123.89H65" stroke="#4389f2" stroke-width="1.25" fill="none" stroke-dasharray="1.3 2.4"/>
<text transform="translate(68.80,127.70) scale(1,1.08)">1.0</text>
<text transform="translate(95.90,127.70) scale(1,1.08)">3.0</text>
<path d="M40 136.76H65" stroke="#ff7f2e" stroke-width="1.25" fill="none"/>
<text transform="translate(68.80,140.70) scale(1,1.08)">1.3</text>
<text transform="translate(95.90,140.70) scale(1,1.08)">0.7</text>
<path d="M40 149.63H65" stroke="#ff7f2e" stroke-width="1.25" fill="none" stroke-dasharray="7.65 0.85"/>
<text transform="translate(68.80,153.70) scale(1,1.08)">1.3</text>
<text transform="translate(95.90,153.70) scale(1,1.08)">1.0</text>
<path d="M40 162.50H65" stroke="#ff7f2e" stroke-width="1.25" fill="none" stroke-dasharray="5.6 4.4"/>
<text transform="translate(68.80,166.70) scale(1,1.08)">1.3</text>
<text transform="translate(95.90,166.70) scale(1,1.08)">2.0</text>
<path d="M40 175.37H65" stroke="#ff7f2e" stroke-width="1.25" fill="none" stroke-dasharray="1.3 2.4"/>
<text transform="translate(68.80,179.70) scale(1,1.08)">1.3</text>
<text transform="translate(95.90,179.70) scale(1,1.08)">3.0</text>
<text transform="translate(66.80,20.80) scale(1.1,1.08)" font-family="'DejaVu Serif', serif" font-size="11.2">χ</text>
<text transform="translate(74.40,24.30) scale(1,1.08)" font-family="'DejaVu Sans', sans-serif" font-size="9.3">σΛ</text>
<text transform="translate(92.50,20.80) scale(1.1,1.08)" font-family="'DejaVu Serif', serif" font-size="11.2">χ</text>
<text transform="translate(100.10,24.30) scale(1,1.08)" font-family="'DejaVu Sans', sans-serif" font-size="9.3">σ<tspan font-size="6" dy="-0.5">∗</tspan><tspan dy="0.5">Λ</tspan></text>
<text transform="translate(134.00,24.30) scale(1,1.08)" font-size="13.4">LWM</text>
<text transform="translate(169.80,256.20) scale(1,1.08)" font-size="13.5">n</text>
<text transform="translate(176.30,259.20) scale(1,1.08) scale(1.15,1)" font-size="9">Λ</text>
<text transform="translate(188.00,256.20) scale(1,1.08) scale(1.04,1)" font-size="13.5">(fm</text>
<text transform="translate(209.00,250.20) scale(1,1.08)" font-size="10">-3</text>
<text transform="translate(224.80,256.20) scale(1,1.08)" font-size="13.5">)</text>
<text transform="translate(12.20,154.60) scale(1,1.08) rotate(-90)" font-size="12.6">U</text>
<text transform="translate(15.40,144.40) scale(1,1.08) rotate(-90) scale(1.2,1)" font-size="10">Λ</text>
<text transform="translate(6.60,134.60) scale(1,1.08) rotate(-90) scale(1.2,1)" font-size="10">Λ</text>
<text transform="translate(12.20,122.30) scale(1,1.08) rotate(-90)" font-size="12.6">(MeV)</text>
</g>
</svg>
</body></html>
